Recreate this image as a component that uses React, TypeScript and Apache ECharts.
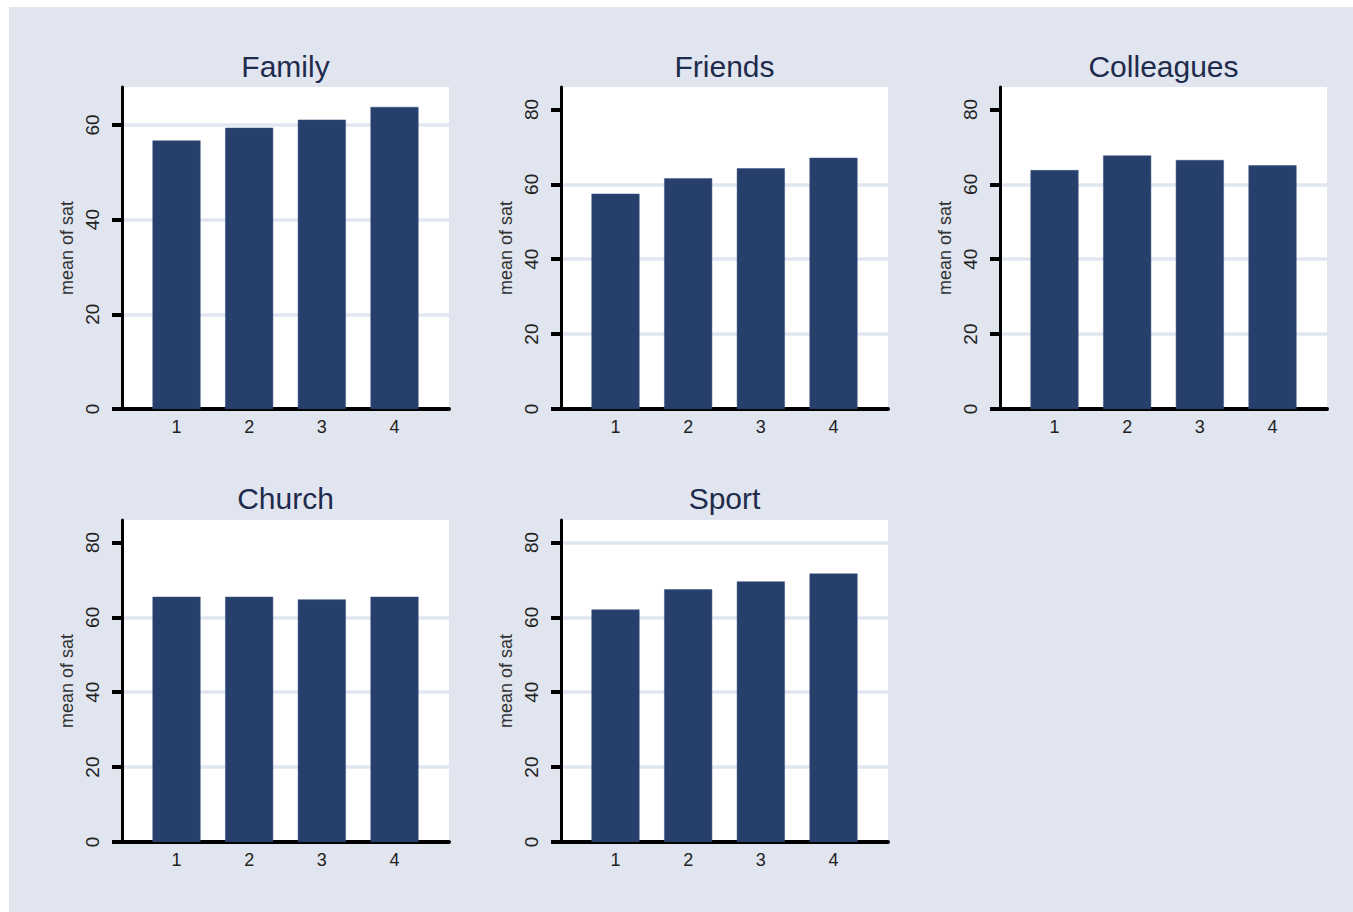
import React, { useEffect, useRef } from "react";
import * as echarts from "echarts";

// ---- data ----
const categories = [1, 2, 3, 4];
const panelTitles = ["Family", "Friends", "Colleagues", "Church", "Sport"];
const family = [56.7, 59.4, 61.1, 63.8];
const friends = [57.5, 61.6, 64.3, 67.1];
const colleagues = [63.8, 67.7, 66.5, 65.1];
const church = [65.5, 65.5, 64.8, 65.5];
const sport = [62.1, 67.5, 69.6, 71.7];
const panelValues = [family, friends, colleagues, church, sport];
const yAxisMax = [68, 86, 86, 86, 86];
const yTickLabels = [
  [0, 20, 40, 60],
  [0, 20, 40, 60, 80],
  [0, 20, 40, 60, 80],
  [0, 20, 40, 60, 80],
  [0, 20, 40, 60, 80],
];
const gridLineValues = [
  [20, 40, 60],
  [20, 40, 60],
  [20, 40, 60],
  [20, 40, 60],
  [20, 40, 60, 80],
];
const yAxisTitle = "mean of sat";

// ---- layout ----
const panelLeft = [122, 561, 1000, 122, 561];
const panelTop = [87, 87, 87, 520, 520];
const panelWidth = 327;
const panelHeight = 322;
const titleY = [66, 66, 66, 498, 498];

const BG = "#e0e5ef";
const BAR = "#273f6b";
const FONT = "'Liberation Sans', Arial, Helvetica, sans-serif";

export default function App() {
  const ref = useRef<HTMLDivElement>(null);
  useEffect(() => {
    document.body.style.margin = "0";
    const chart = echarts.init(ref.current!, null, { renderer: "svg" });
    const grid: any[] = [];
    const xAxis: any[] = [];
    const yAxis: any[] = [];
    const series: any[] = [];
    const graphic: any[] = [
      { type: "rect", z: -10, shape: { x: 9, y: 7, width: 1353, height: 912 }, style: { fill: BG } },
    ];
    panelTitles.forEach((t, i) => {
      grid.push({
        left: panelLeft[i],
        top: panelTop[i],
        width: panelWidth,
        height: panelHeight,
        show: true,
        backgroundColor: "#ffffff",
        borderWidth: 0,
      });
      xAxis.push({
        type: "value",
        gridIndex: i,
        min: 0.25,
        max: 4.75,
        axisLine: { show: true, onZero: false, lineStyle: { color: "#000", width: 4 } },
        axisTick: { show: false, customValues: categories },
        axisLabel: {
          customValues: categories,
          fontSize: 18,
          color: "#222",
          margin: 9,
          fontFamily: FONT,
        },
        splitLine: { show: false },
      });
      yAxis.push({
        type: "value",
        gridIndex: i,
        min: 0,
        max: yAxisMax[i],
        name: yAxisTitle,
        nameLocation: "middle",
        nameRotate: 90,
        nameGap: 46,
        nameTextStyle: { fontSize: 18, color: "#333", fontFamily: FONT },
        axisLine: { show: true, lineStyle: { color: "#000", width: 3 } },
        axisTick: { show: true, length: 10, customValues: yTickLabels[i], lineStyle: { color: "#000", width: 4 } },
        axisLabel: {
          customValues: yTickLabels[i],
          rotate: 90,
          fontSize: 19,
          color: "#222",
          margin: 20,
          fontFamily: FONT,
        },
        splitLine: { show: false },
      });
      // secondary y axis only for grid lines
      yAxis.push({
        type: "value",
        gridIndex: i,
        min: 0,
        max: yAxisMax[i],
        position: "left",
        axisLine: { show: false },
        axisTick: { show: false, customValues: gridLineValues[i] },
        axisLabel: { show: false, customValues: gridLineValues[i] },
        splitLine: { show: true, lineStyle: { color: "#e1e6f0", width: 3.5 } },
      });
      series.push({
        type: "bar",
        xAxisIndex: i,
        yAxisIndex: i * 2,
        barWidth: 48,
        itemStyle: { color: BAR, borderColor: "#3a5280", borderWidth: 0.5 },
        data: categories.map((c, k) => [c, panelValues[i][k]]),
        z: 3,
      });
      graphic.push({
        type: "text",
        x: panelLeft[i] + panelWidth / 2,
        y: titleY[i],
        style: {
          text: t,
          fontSize: 30,
          fontFamily: FONT,
          fill: "#1f2b4d",
          textAlign: "center",
          textVerticalAlign: "middle",
        },
      });
    });
    chart.setOption({
      animation: false,
      backgroundColor: "#ffffff",
      grid,
      xAxis,
      yAxis,
      series,
      graphic,
    });
    return () => chart.dispose();
  }, []);
  return <div ref={ref} style={{ width: 1353, height: 912 }} />;
}
